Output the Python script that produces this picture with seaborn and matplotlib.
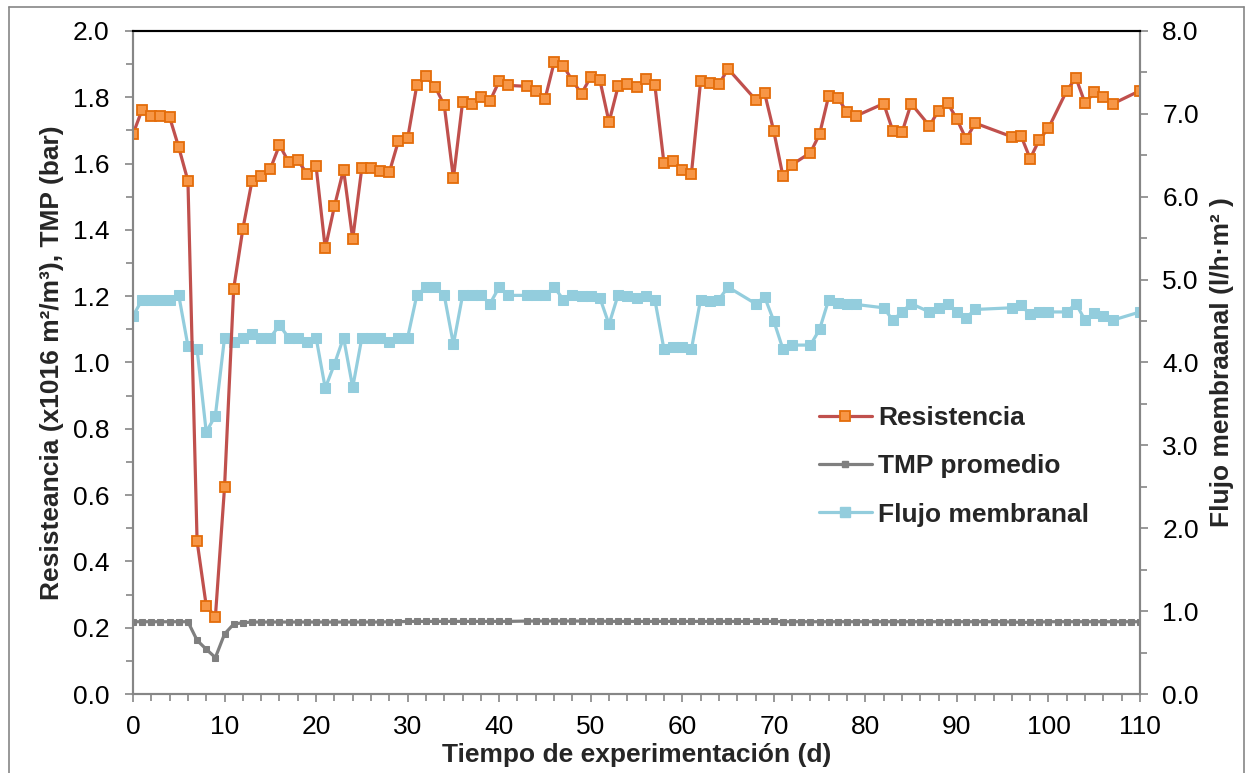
import matplotlib
matplotlib.use("Agg")
import matplotlib.pyplot as plt
from matplotlib.ticker import MultipleLocator, FormatStrFormatter
from matplotlib.lines import Line2D
import seaborn as sns
import pandas as pd

# Measurement days for resistance and flux
dias = (list(range(0, 42)) + list(range(43, 66)) + [68, 69, 70, 71, 72]
        + list(range(74, 80)) + [82, 83, 84, 85] + list(range(87, 93))
        + list(range(96, 101)) + list(range(102, 108)) + [110])

# Resistance (x1016 m2/m3)
resistencia = [
    1.689, 1.763, 1.745, 1.745, 1.740, 1.649, 1.548, 0.461, 0.266, 0.233,
    0.624, 1.223, 1.403, 1.548, 1.564, 1.584, 1.656, 1.605, 1.610, 1.570,
    1.592, 1.344, 1.471, 1.582, 1.372, 1.588, 1.588, 1.578, 1.574, 1.669,
    1.676, 1.836, 1.863, 1.832, 1.776, 1.556, 1.785, 1.779, 1.801, 1.789,
    1.849, 1.836,
    1.833, 1.820, 1.794, 1.905, 1.895, 1.850, 1.811, 1.862, 1.852, 1.725,
    1.834, 1.840, 1.832, 1.855, 1.838, 1.601, 1.609, 1.582, 1.570, 1.848,
    1.844, 1.839, 1.886,
    1.793, 1.812, 1.697, 1.562, 1.597,
    1.633, 1.689, 1.805, 1.798, 1.755, 1.744,
    1.781, 1.699, 1.694, 1.781,
    1.714, 1.760, 1.782, 1.734, 1.674, 1.722,
    1.681, 1.684, 1.615, 1.672, 1.707,
    1.820, 1.859, 1.782, 1.815, 1.800, 1.780,
    1.820,
]

# Membrane flux (l/h·m2)
flujo = [
    4.56, 4.76, 4.76, 4.76, 4.76, 4.81, 4.20, 4.16, 3.16, 3.36,
    4.30, 4.25, 4.30, 4.34, 4.30, 4.30, 4.45, 4.30, 4.30, 4.25,
    4.30, 3.69, 3.98, 4.30, 3.70, 4.30, 4.30, 4.30, 4.25, 4.30,
    4.30, 4.81, 4.91, 4.91, 4.81, 4.22, 4.81, 4.81, 4.81, 4.71,
    4.91, 4.81,
    4.81, 4.81, 4.81, 4.91, 4.76, 4.82, 4.80, 4.80, 4.78, 4.46,
    4.82, 4.80, 4.78, 4.80, 4.76, 4.16, 4.19, 4.19, 4.16, 4.76,
    4.74, 4.76, 4.91,
    4.71, 4.79, 4.50, 4.16, 4.21,
    4.21, 4.40, 4.76, 4.72, 4.70, 4.70,
    4.66, 4.51, 4.61, 4.71,
    4.61, 4.66, 4.71, 4.61, 4.54, 4.64,
    4.66, 4.69, 4.58, 4.61, 4.61,
    4.61, 4.71, 4.51, 4.60, 4.56, 4.51,
    4.61,
]

# Daily mean TMP (bar)
dias_tmp = list(range(0, 42)) + list(range(43, 111))
tmp = [
    0.218, 0.218, 0.218, 0.218, 0.218, 0.218, 0.218, 0.162, 0.135, 0.110,
    0.181, 0.211, 0.215, 0.217, 0.217, 0.217, 0.217, 0.217, 0.217, 0.217,
    0.217, 0.217, 0.217, 0.217, 0.217, 0.217, 0.217, 0.217, 0.218, 0.218,
    0.219, 0.219, 0.219, 0.219, 0.219, 0.219, 0.219, 0.219, 0.219, 0.219,
    0.219, 0.219,
    0.220, 0.220, 0.220, 0.220, 0.220, 0.220, 0.220, 0.220, 0.220, 0.219,
    0.219, 0.219, 0.219, 0.219, 0.219, 0.219, 0.219, 0.219, 0.219, 0.219,
    0.219, 0.219, 0.219, 0.219, 0.219, 0.219, 0.219, 0.219, 0.218, 0.218,
    0.218, 0.218, 0.218, 0.218, 0.218, 0.218, 0.218, 0.218, 0.218, 0.218,
    0.218, 0.218, 0.218, 0.218, 0.218, 0.218, 0.218, 0.218, 0.218, 0.218,
    0.218, 0.218, 0.218, 0.217, 0.216, 0.216, 0.217, 0.218, 0.218, 0.218,
    0.218, 0.218, 0.218, 0.218, 0.218, 0.218, 0.218, 0.218,
]

x_ticks = list(range(0, 111, 10))

df = pd.DataFrame({"dia": dias, "resistencia": resistencia, "flujo": flujo})
df_tmp = pd.DataFrame({"dia": dias_tmp, "tmp": tmp})

sns.set_style("white")
plt.rcParams["font.family"] = ["Liberation Sans", "DejaVu Sans"]

RED = "#C0504D"
ORANGE_FACE = "#F79646"
ORANGE_EDGE = "#E46C0A"
GREY = "#7F7F7F"
BLUE = "#93CDDD"
AXIS_GREY = "#868686"

fig = plt.figure(figsize=(12.46, 7.73), dpi=100)
ax = fig.add_axes([133 / 1246, 1 - 694 / 773, (1140 - 133) / 1246, (694 - 31) / 773])
ax2 = ax.twinx()

# Flux on the secondary axis, drawn underneath
sns.lineplot(data=df, x="dia", y="flujo", ax=ax2, color=BLUE, linewidth=2.3,
             marker="s", markersize=7.5, markerfacecolor=BLUE,
             markeredgecolor=BLUE, legend=False)

sns.lineplot(data=df_tmp, x="dia", y="tmp", ax=ax, color=GREY, linewidth=2.3,
             marker="s", markersize=5, markerfacecolor=GREY,
             markeredgecolor=GREY, legend=False)
sns.lineplot(data=df, x="dia", y="resistencia", ax=ax, color=RED, linewidth=2.3,
             marker="s", markersize=7, markerfacecolor=ORANGE_FACE,
             markeredgecolor=ORANGE_EDGE, markeredgewidth=1.3, legend=False)

ax.set_zorder(ax2.get_zorder() + 1)
ax.patch.set_visible(False)

ax.set_xlim(0, 110)
ax.set_ylim(0, 2.0)
ax2.set_ylim(0, 8.0)

ax.set_xticks(x_ticks)
ax.xaxis.set_minor_locator(MultipleLocator(2))
ax.yaxis.set_major_locator(MultipleLocator(0.2))
ax.yaxis.set_minor_locator(MultipleLocator(0.1))
ax.yaxis.set_major_formatter(FormatStrFormatter("%.1f"))
ax2.yaxis.set_major_locator(MultipleLocator(1.0))
ax2.yaxis.set_minor_locator(MultipleLocator(0.5))
ax2.yaxis.set_major_formatter(FormatStrFormatter("%.1f"))

tick_fs = 19
for a in (ax, ax2):
    a.tick_params(which="both", direction="out", color=AXIS_GREY, width=1.2,
                  labelsize=tick_fs, labelcolor="black")
    a.tick_params(which="major", length=6)
    a.tick_params(which="minor", length=5)
    for side in ("left", "right", "bottom"):
        a.spines[side].set_color(AXIS_GREY)
        a.spines[side].set_linewidth(1.5)
        a.spines[side].set_visible(True)
    a.spines["top"].set_color("black")
    a.spines["top"].set_linewidth(1.5)
    a.spines["top"].set_visible(True)
    a.grid(False)

ax.tick_params(axis="y", which="both", left=True, right=False, pad=11)
ax.tick_params(axis="x", which="both", bottom=True, top=False, pad=9)
ax2.tick_params(axis="y", which="both", right=True, left=False, pad=10)

ax.set_xlabel("Tiempo de experimentación (d)", fontsize=19, fontweight="bold",
              labelpad=3)
ax.set_ylabel("Resisteancia (x1016 m²/m³), TMP (bar)", fontsize=19,
              fontweight="bold", labelpad=6)
ax2.set_ylabel("Flujo membraanal (l/h·m² )", fontsize=19, fontweight="bold",
               labelpad=8)

handles = [
    Line2D([], [], color=RED, linewidth=2.3, marker="s", markersize=7,
           markerfacecolor=ORANGE_FACE, markeredgecolor=ORANGE_EDGE,
           markeredgewidth=1.3),
    Line2D([], [], color=GREY, linewidth=2.3, marker="s", markersize=5,
           markerfacecolor=GREY, markeredgecolor=GREY),
    Line2D([], [], color=BLUE, linewidth=2.3, marker="s", markersize=7.5,
           markerfacecolor=BLUE, markeredgecolor=BLUE),
]
labels = ["Resistencia", "TMP promedio", "Flujo membranal"]
leg = ax.legend(handles, labels, loc="upper left",
                bbox_to_anchor=(819 / 1246, 1 - 406 / 773),
                bbox_transform=fig.transFigure, frameon=False,
                prop={"size": 19, "weight": "bold"}, handlelength=2.0,
                handletextpad=0.25, labelspacing=0.92, borderaxespad=0,
                borderpad=0)

# Outer frame of the figure
frame_kw = dict(color=AXIS_GREY, linewidth=1.2, transform=fig.transFigure)
x0, x1, y1 = 8.5 / 1246, 1243.5 / 1246, 1 - 6.5 / 773
fig.add_artist(Line2D([x0, x0], [0, y1], **frame_kw))
fig.add_artist(Line2D([x0, x1], [y1, y1], **frame_kw))
fig.add_artist(Line2D([x1, x1], [0, y1], **frame_kw))

fig.savefig("out.png", dpi=100)
